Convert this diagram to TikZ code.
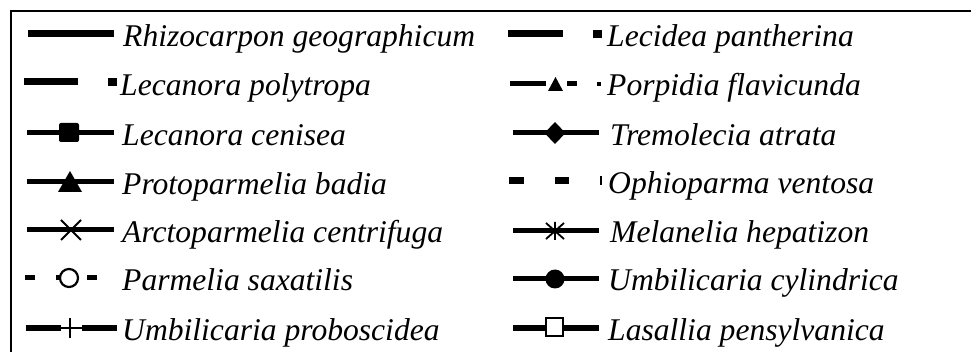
\documentclass[tikz,border=0pt]{standalone}
\usepackage{fontspec}
\setmainfont{Liberation Serif}
\begin{document}
\begin{tikzpicture}[x=1pt,y=-1pt,
  thick7/.style={line width=7pt},
  thick5/.style={line width=5pt},
  thin2/.style={line width=1.8pt},
  lbl/.style={anchor=base west,inner sep=0pt,font=\fontsize{31.6}{36}\selectfont\itshape}]
\clip (0,0) rectangle (971,352);
\fill[white] (0,0) rectangle (971,352);
\draw[line width=2.6pt] (11,400) -- (11,11) -- (990,11);
% ---------- left column ----------
% row 1
\draw[thick7] (28,34) -- (114,34);
\node[lbl] (t1) at (123,47) {Rhizocarpon geographicum};
% row 2
\draw[thick7] (24,82) -- (78,82);
\fill (108,78) rectangle (117,86);
\node[lbl] (t2) at (120,96) {Lecanora polytropa};
% row 3
\draw[thick5] (27,133) -- (114,133);
\fill[rounded corners=2pt] (59,123) rectangle (79,142);
\node[lbl] (t3) at (122,146) {Lecanora cenisea};
% row 4
\draw[thick5] (27,182) -- (114,182);
\fill (70,171) -- (82,192) -- (58,192) -- cycle;
\node[lbl] (t4) at (122,195) {Protoparmelia badia};
% row 5
\draw[thick5] (27,230) -- (114,230);
\draw[thin2] (61,220) -- (81,240) (61,240) -- (81,220);
\node[lbl] (t5) at (122,243) {Arctoparmelia centrifuga};
% row 6
\draw[thick5] (25,278) -- (35,278);
\draw[thick5] (56,278) -- (61,278);
\draw[line width=2.2pt] (69,278) circle (9);
\draw[thick5] (87,278) -- (97,278);
\node[lbl] (t6) at (122,291) {Parmelia saxatilis};
% row 7
\draw[thick5] (26,328) -- (61,328);
\draw[thin2] (61,328) -- (82,328) (70,318) -- (70,338);
\draw[thick5] (82,328) -- (117,328);
\node[lbl] (t7) at (122,341) {Umbilicaria proboscidea};
% ---------- right column ----------
% row 1
\draw[thick7] (508,34) -- (563,34);
\fill (593,30) rectangle (602,38);
\node[lbl] (u1) at (607,47) {Lecidea pantherina};
% row 2
\draw[thick5] (510,84) -- (546,84);
\fill (555.5,77) -- (563,91) -- (548,91) -- cycle;
\draw[thick5] (567,84) -- (577,84);
\fill (597,82) rectangle (601,86);
\node[lbl] (u2) at (607,96) {Porpidia flavicunda};
% row 3
\draw[thick5] (513,133) -- (599,133);
\fill (555,122) -- (565.5,133) -- (555,144) -- (544.5,133) -- cycle;
\node[lbl] (u3) at (610,146) {Tremolecia atrata};
% row 4
\draw[thick7] (509,181) -- (524,181);
\draw[thick7] (555,181) -- (569,181);
\draw[line width=1.5pt] (601,176) -- (601,185);
\node[lbl] (u4) at (608,194) {Ophioparma ventosa};
% row 5
\draw[thick5] (513,231) -- (599,231);
\draw[thin2] (555,222) -- (555,240) (546,223) -- (564,239) (546,239) -- (564,223);
\node[lbl] (u5) at (610,243) {Melanelia hepatizon};
% row 6
\draw[thick5] (513,279) -- (599,279);
\fill (555,279) circle (9.5);
\node[lbl] (u6) at (608,291) {Umbilicaria cylindrica};
% row 7
\draw[thick5] (513,328) -- (599,328);
\draw[line width=2pt,fill=white] (546,318) rectangle (563,336);
\node[lbl] (u7) at (608,341) {Lasallia pensylvanica};
\end{tikzpicture}
\end{document}
